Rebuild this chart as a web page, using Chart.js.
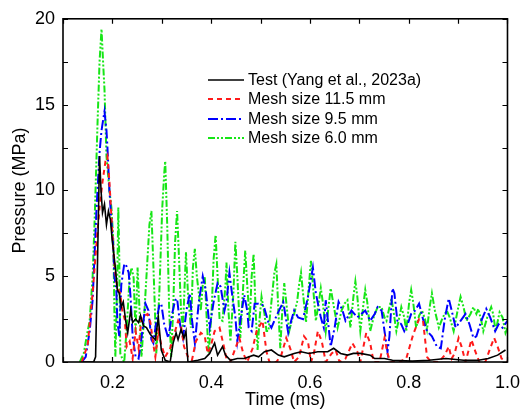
<!DOCTYPE html>
<html>
<head>
<meta charset="utf-8">
<script src="https://cdn.jsdelivr.net/npm/chart.js@4.4.1/dist/chart.umd.min.js"></script>
<style>
html,body{margin:0;padding:0;background:#fff;}
#wrap{width:530px;height:412px;}
</style>
</head>
<body>
<div id="wrap"><canvas id="c" width="530" height="412"></canvas></div>
<script>
// ---- Data (time in ms, pressure in MPa) ----
const seriesLabels = ["Test (Yang et al., 2023a)", "Mesh size 11.5 mm", "Mesh size 9.5 mm", "Mesh size 6.0 mm"];

const tTest = [0.140,0.162,0.166,0.170,0.174,0.177,0.180,0.184,0.188,0.192,0.196,0.200,0.206,0.210,0.214,0.218,0.222,0.227,0.231,0.237,0.241,0.247,0.253,0.257,0.263,0.269,0.277,0.287,0.293,0.299,0.307,0.317,0.323,0.329,0.333,0.339,0.345,0.349,0.353,0.373,0.387,0.397,0.407,0.413,0.423,0.429,0.439,0.453,0.467,0.486,0.496,0.508,0.522,0.536,0.548,0.568,0.582,0.598,0.616,0.636,0.648,0.662,0.676,0.688,0.702,0.722,0.731,0.751,0.767,0.807,0.841,0.875,0.911,0.941,0.961,0.980,0.996];
const pTest = [0,0,0.3,6,12.0,10,8.7,9.2,8.0,8.8,8.3,7.0,5.5,4.2,4.0,3.2,3.5,2.4,1.7,3.0,2.3,2.5,2.3,2.7,2.1,2.0,1.6,1.3,2.6,0.7,0.1,0,1.1,1.7,1.3,1.9,1.4,1.8,0,0.1,0.2,0.5,1.1,0.4,0.9,0.4,0.1,0.2,0.2,0.4,0.3,0.6,0.7,0.4,0.3,0.5,0.6,0.5,0.6,0.6,0.8,0.5,0.4,0.5,0.5,0.4,0.2,0.2,0.1,0.05,0.1,0.2,0.1,0.1,0.2,0.4,0.7];

const tMesh115 = [0.138,0.150,0.160,0.168,0.174,0.180,0.186,0.190,0.194,0.198,0.202,0.206,0.210,0.216,0.220,0.225,0.229,0.235,0.241,0.247,0.253,0.259,0.265,0.271,0.277,0.283,0.287,0.293,0.299,0.307,0.317,0.325,0.333,0.339,0.345,0.353,0.361,0.369,0.379,0.387,0.393,0.399,0.407,0.417,0.425,0.431,0.439,0.449,0.457,0.465,0.473,0.484,0.492,0.504,0.512,0.518,0.532,0.542,0.552,0.560,0.568,0.578,0.588,0.596,0.602,0.608,0.616,0.624,0.632,0.644,0.652,0.660,0.672,0.686,0.696,0.702,0.714,0.722,0.729,0.741,0.751,0.757,0.763,0.781,0.795,0.809,0.821,0.829,0.837,0.845,0.861,0.873,0.881,0.887,0.893,0.901,0.907,0.915,0.927,0.935,0.943,0.955,0.965,0.973,0.980,0.988,1.000];
const pMesh115 = [0,1.0,4,7,9,10.5,11.7,12.0,10.5,8.5,6.5,5.2,4.3,4.0,3.0,2.5,0.9,1.2,0.2,1.8,0.8,2.6,2.7,2.8,2.3,1.0,0.3,1.8,1.0,0.3,0.8,1.6,2.4,2.1,0.9,0.3,0.1,1.2,1.7,1.5,0.5,0.9,1.8,2.0,1.0,0.2,0,0.8,1.4,0.5,0,0.8,1.8,2.4,0.6,0,0,0.4,1.4,0.8,0,0.3,1.5,1.2,0,0.5,1.8,1.2,0,0.5,0.7,0,0.2,1.1,0.6,0,1.7,1.1,0,0,1.4,0.5,0,0,0.2,1.6,2.5,2.4,0.3,0,0,0.4,0.9,0.2,0.5,1.4,0.9,0,1.3,0.6,0,0,0.8,1.4,0.9,0.2,0];

const tMesh95 = [0.138,0.146,0.154,0.160,0.164,0.168,0.174,0.178,0.184,0.188,0.190,0.194,0.198,0.202,0.204,0.208,0.210,0.214,0.218,0.224,0.227,0.233,0.237,0.241,0.247,0.253,0.259,0.267,0.273,0.279,0.283,0.289,0.295,0.299,0.305,0.313,0.321,0.327,0.331,0.337,0.343,0.351,0.357,0.361,0.367,0.375,0.383,0.389,0.397,0.405,0.413,0.419,0.427,0.431,0.437,0.443,0.449,0.453,0.461,0.467,0.473,0.476,0.482,0.488,0.496,0.506,0.516,0.522,0.534,0.546,0.556,0.562,0.568,0.576,0.586,0.596,0.606,0.612,0.622,0.628,0.632,0.642,0.650,0.658,0.666,0.672,0.684,0.696,0.704,0.712,0.722,0.731,0.737,0.745,0.751,0.757,0.761,0.767,0.771,0.777,0.785,0.791,0.799,0.805,0.813,0.821,0.829,0.837,0.847,0.857,0.865,0.873,0.881,0.887,0.895,0.905,0.915,0.923,0.931,0.937,0.947,0.957,0.965,0.975,0.982,0.990,1.000];
const pMesh95 = [0,0.3,1.8,3.6,6.3,9,12.2,13.5,14.6,13.5,12.5,10,8.2,6.6,5.0,4.2,2.4,1.5,4.5,5.7,5.7,5.2,3.7,1.5,0.3,0.2,1.4,3.4,3.0,1.3,1.1,2.4,3.3,3.4,2.2,1.4,2.8,3.6,3.7,2.2,1.4,3.2,4.0,2.5,1.1,3.5,5.0,4.2,2.0,3.5,4.6,4.4,3.0,3.5,5.2,3.8,2.6,1.2,2.8,3.9,3.0,2.0,1.8,3.4,3.4,3.3,2.3,2.0,2.8,3.5,1.7,2.4,3.0,2.6,2.5,3.8,5.5,4.0,2.6,2.0,3.6,0.9,2.0,3.5,3.0,2.4,3.0,2.6,2.8,3.0,2.4,2.8,3.2,3.0,1.8,0.6,1.5,4.3,4.0,2.4,2.2,1.8,2.3,2.8,3.0,3.4,2.5,1.8,1.5,0.9,0.8,2.5,3.7,3.0,2.0,2.4,2.8,2.2,1.4,1.5,2.4,3.1,2.6,1.8,2.2,2.0,2.4];

const tMesh60 = [0.134,0.142,0.148,0.154,0.160,0.164,0.170,0.174,0.178,0.182,0.184,0.188,0.194,0.198,0.202,0.204,0.206,0.210,0.212,0.214,0.216,0.220,0.224,0.229,0.235,0.239,0.243,0.247,0.251,0.255,0.259,0.265,0.271,0.275,0.279,0.285,0.289,0.295,0.301,0.305,0.307,0.311,0.315,0.319,0.323,0.327,0.331,0.335,0.339,0.343,0.347,0.349,0.353,0.359,0.363,0.367,0.371,0.379,0.383,0.387,0.391,0.395,0.401,0.405,0.409,0.413,0.417,0.423,0.429,0.431,0.435,0.439,0.445,0.449,0.453,0.459,0.465,0.469,0.473,0.478,0.482,0.486,0.490,0.494,0.498,0.502,0.508,0.512,0.516,0.522,0.528,0.532,0.536,0.540,0.544,0.548,0.552,0.558,0.564,0.568,0.574,0.578,0.582,0.586,0.592,0.598,0.602,0.606,0.612,0.618,0.622,0.626,0.632,0.638,0.642,0.648,0.656,0.664,0.670,0.676,0.682,0.688,0.692,0.696,0.702,0.708,0.712,0.716,0.722,0.729,0.737,0.745,0.751,0.755,0.761,0.765,0.769,0.775,0.781,0.785,0.791,0.795,0.801,0.805,0.809,0.815,0.821,0.827,0.833,0.837,0.843,0.847,0.853,0.861,0.869,0.877,0.883,0.891,0.899,0.905,0.911,0.917,0.925,0.931,0.937,0.941,0.947,0.951,0.959,0.967,0.971,0.976,0.984,0.990,0.996,1.000];
const pMesh60 = [0,0.5,1.5,2.4,5,8.2,14,17.5,19.4,17,15.9,12,10,9.0,7,3,0.3,5,9.0,6,0.5,0.2,0,2,5.0,5.5,4.9,1.7,5.5,3,0.3,3,6,8,8.8,4,0.5,4,9,11,11.7,8,3,0.3,3,7,8.8,6,3,2.0,5,6.4,4,2.0,5.5,6.6,5,3.0,4.5,5.0,2.5,0.5,3,6,7.4,5,2.5,2.4,4.5,5.8,3,1.2,4,7.0,5,1.4,4.5,6.5,4.5,2.4,5,6.3,3,0.7,2.5,3.8,2.8,1.8,1.8,3.5,5.2,5.7,3,0.8,3,4.6,3.5,1.8,2.5,2.8,3.5,4.5,5.2,4,2.3,4.5,5.9,4.5,2.4,3.5,4.3,3.5,1.8,3.3,4.3,3.3,2.0,3,3.4,3.6,2.0,3.8,4.7,3.8,1.8,3.3,4.2,3.5,1.8,2.6,3.2,3.2,2.6,2.4,3.2,3.7,3.0,1.8,2.6,3.2,2.6,1.8,3.5,4.2,3.5,2.0,2.7,3.0,2.5,1.9,3.3,4.0,3.0,2.0,2.6,3.0,2.6,1.8,3.0,3.8,3.2,2.4,2.8,3.2,2.8,3.1,2.4,1.8,2.6,3.2,2.8,1.8,2.9,2.6,1.7,2.0];

const xTickMin = 0.1, xTickMax = 1.0, xStep = 0.1;
const yTickMin = 0, yTickMax = 20, yStep = 2.5;

// ---- build ----
function pts(t, p){ return t.map((x,i)=>({x:x, y:p[i]})); }
const styles = [
  {color:'#000000', width:1.6, dash:[]},
  {color:'#ff1a1a', width:2, dash:[5,4]},
  {color:'#0000ff', width:2, dash:[10,3,2,3]},
  {color:'#16e616', width:2, dash:[7,2,2,2,2,2]}
];
const allData = [pts(tTest,pTest), pts(tMesh115,pMesh115), pts(tMesh95,pMesh95), pts(tMesh60,pMesh60)];
const datasets = allData.map((d,i)=>({
  label: seriesLabels[i], data: d,
  borderColor: styles[i].color, backgroundColor: styles[i].color,
  borderWidth: styles[i].width, borderDash: styles[i].dash,
  pointRadius: 0, tension: 0, fill: false
}));

const frameTicks = {
  id:'frameTicks',
  afterDraw(chart){
    const ctx = chart.ctx, a = chart.chartArea;
    const xs = chart.scales.x, ys = chart.scales.y;
    ctx.save();
    ctx.strokeStyle = '#000'; ctx.lineWidth = 1.2;
    const L = 5;
    ctx.beginPath();
    xs.ticks.forEach(t=>{
      const px = Math.round(xs.getPixelForValue(t.value))+0.5;
      ctx.moveTo(px, a.bottom); ctx.lineTo(px, a.bottom-L);
      ctx.moveTo(px, a.top); ctx.lineTo(px, a.top+L);
    });
    ys.ticks.forEach(t=>{
      const py = Math.round(ys.getPixelForValue(t.value))+0.5;
      ctx.moveTo(a.left, py); ctx.lineTo(a.left+L, py);
      ctx.moveTo(a.right, py); ctx.lineTo(a.right-L, py);
    });
    ctx.stroke();
    ctx.lineWidth = 1.6;
    ctx.strokeRect(a.left, a.top, a.right-a.left, a.bottom-a.top);
    // legend
    const lx0 = 208, lx1 = 244, tx = 248, ys0 = [80, 99, 119, 138];
    ctx.font = '16px "Liberation Sans", Arial, sans-serif';
    ctx.textBaseline = 'middle'; ctx.textAlign = 'left';
    chart.data.datasets.forEach((ds,i)=>{
      ctx.beginPath();
      ctx.strokeStyle = ds.borderColor; ctx.lineWidth = ds.borderWidth;
      ctx.setLineDash(ds.borderDash);
      ctx.moveTo(lx0, ys0[i]); ctx.lineTo(lx1, ys0[i]);
      ctx.stroke();
      ctx.setLineDash([]);
      ctx.fillStyle = '#000';
      ctx.fillText(ds.label, tx, ys0[i]+1);
    });
    ctx.restore();
  }
};

const font = {family:'"Liberation Sans", Arial, sans-serif', size:18};
new Chart(document.getElementById('c'), {
  type:'line',
  data:{datasets},
  options:{
    responsive:false, animation:false, devicePixelRatio:1,
    layout:{padding:{left:0, top:16, right:15, bottom:0}},
    plugins:{legend:{display:false}, tooltip:{enabled:false}},
    scales:{
      x:{type:'linear', min:xTickMin, max:xTickMax,
        grid:{display:false, drawTicks:false}, border:{display:false},
        ticks:{stepSize:xStep, autoSkip:false, maxRotation:0, color:'#000', font, padding:10,
          callback:(v)=>{ const r=Math.round(v*10); return (r%2===0) ? (r/10).toFixed(1) : ''; }},
        title:{display:true, text:'Time (ms)', color:'#000', font, padding:{top:0,bottom:1}},
        afterFit(s){ s.height = 50; }
      },
      y:{type:'linear', min:yTickMin, max:yTickMax,
        grid:{display:false, drawTicks:false}, border:{display:false},
        ticks:{stepSize:yStep, autoSkip:false, color:'#000', font, padding:8,
          callback:(v)=> (v%5===0) ? String(v) : ''},
        title:{display:true, text:'Pressure (MPa)', color:'#000', font, padding:{top:9,bottom:0}},
        afterFit(s){ s.width = 63; }
      }
    }
  },
  plugins:[frameTicks]
});
</script>
</body>
</html>
